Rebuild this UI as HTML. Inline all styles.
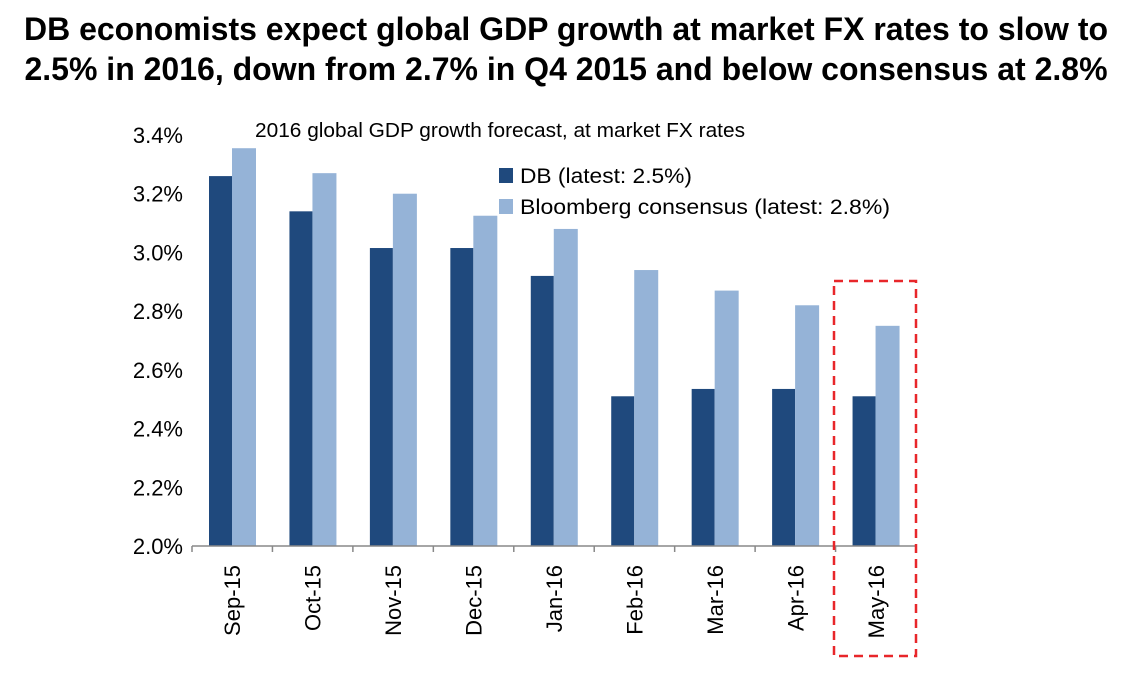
<!DOCTYPE html>
<html><head><meta charset="utf-8"><style>
body{margin:0;background:#fff;width:1132px;height:681px;overflow:hidden;font-family:"Liberation Sans",sans-serif}
#t{position:absolute;left:0;top:9px;width:1132px;text-align:center;font-weight:bold;font-size:32px;line-height:40px;color:#000;white-space:nowrap}
</style></head><body>
<div id="t">DB economists expect global GDP growth at market FX rates to slow to<br>2.5% in 2016, down from 2.7% in Q4 2015 and below consensus at 2.8%</div>
<svg id="c" width="1132" height="681" style="position:absolute;left:0;top:0"></svg>
<script>
const categories=["Sep-15","Oct-15","Nov-15","Dec-15","Jan-16","Feb-16","Mar-16","Apr-16","May-16"];
const dbValues=[3.26,3.14,3.015,3.015,2.92,2.51,2.535,2.535,2.51];
const bbValues=[3.355,3.27,3.20,3.125,3.08,2.94,2.87,2.82,2.75];
const yTicks=[2.0,2.2,2.4,2.6,2.8,3.0,3.2,3.4];
const NS="http://www.w3.org/2000/svg",svg=document.getElementById('c');
const X0=192,X1=916,Y0=546,Y1=135,ymin=2.0,ymax=3.4;
const cw=(X1-X0)/categories.length;
const y=v=>Y0-(v-ymin)/(ymax-ymin)*(Y0-Y1);
const x=i=>X0+i*cw;
function mk(tag,attrs,txt){const e=document.createElementNS(NS,tag);for(const k in attrs)e.setAttribute(k,attrs[k]);if(txt!=null)e.textContent=txt;svg.appendChild(e);return e;}
const font='"Liberation Sans",sans-serif';
yTicks.forEach(v=>{const e=mk('text',{x:183,y:y(v)+8,'text-anchor':'end','font-size':22,'font-family':font,fill:'#000'},v.toFixed(1)+'%');

});
categories.forEach((c,i)=>{
const b1=mk('rect',{x:x(i)+17,y:y(dbValues[i]),width:23,height:Y0-y(dbValues[i]),fill:'#1f497d'});


const b2=mk('rect',{x:x(i)+40,y:y(bbValues[i]),width:24,height:Y0-y(bbValues[i]),fill:'#95b3d7'});


const cx=x(i)+cw/2+8;
const l=mk('text',{x:0,y:0,transform:`translate(${cx},565) rotate(-90)`,'text-anchor':'end','font-size':22,'font-family':font,fill:'#000'},c);


});
const ax=mk('line',{x1:X0,y1:Y0,x2:X1,y2:Y0,stroke:'#888','stroke-width':1.5});


for(let i=0;i<=categories.length;i++){const t=mk('line',{x1:x(i),y1:Y0,x2:x(i),y2:Y0+6,stroke:'#888','stroke-width':1.5});

}
const st=mk('text',{x:255,y:137,'font-size':20,'font-family':font,fill:'#000',textLength:490,lengthAdjust:'spacingAndGlyphs'},'2016 global GDP growth forecast, at market FX rates');


[['#1f497d','DB (latest: 2.5%)',176,172],['#95b3d7','Bloomberg consensus (latest: 2.8%)',207,370]].forEach(([col,txt,yy,tl])=>{
const s=mk('rect',{x:499,y:yy-8,width:14,height:15,fill:col});


const tx=mk('text',{x:520,y:yy+7,'font-size':21,'font-family':font,fill:'#000',textLength:tl,lengthAdjust:'spacingAndGlyphs'},txt);

});
const hb=mk('rect',{x:834,y:281,width:82,height:375,fill:'none',stroke:'#e8262a','stroke-width':2.5,'stroke-dasharray':'9,6'});


</script>
</body></html>
